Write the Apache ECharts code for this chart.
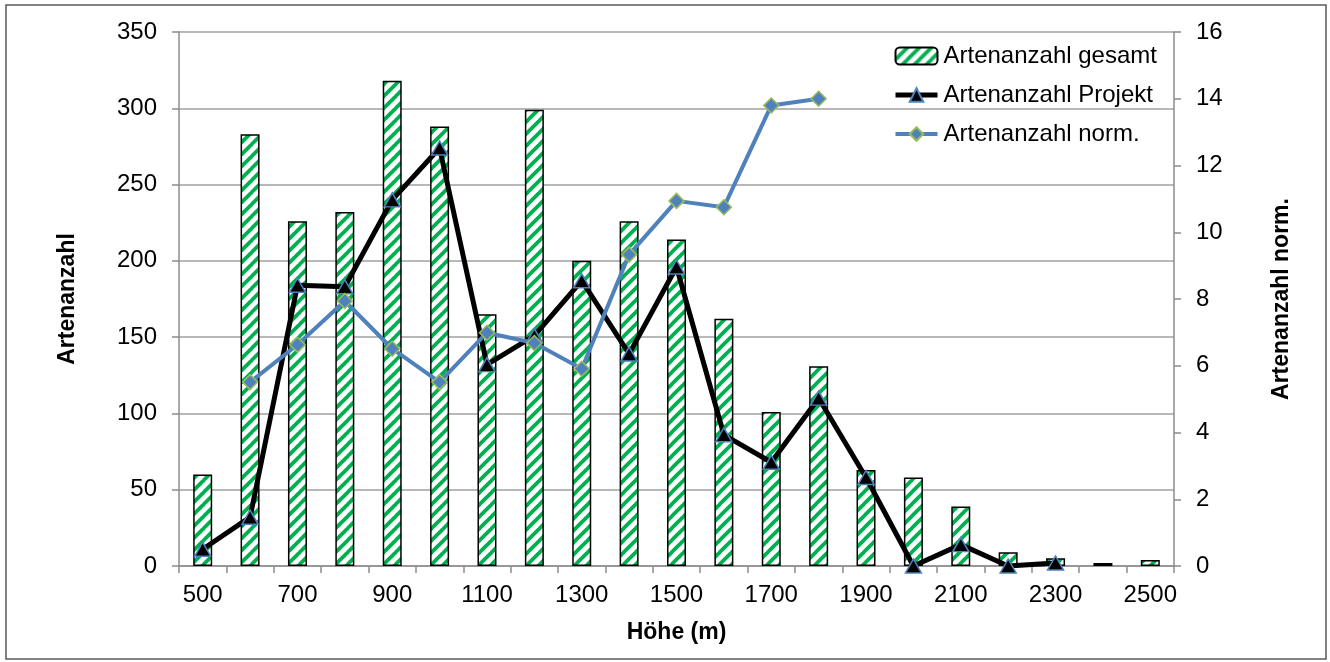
<!DOCTYPE html>
<html>
<head>
<meta charset="utf-8">
<script src="https://cdn.jsdelivr.net/npm/echarts@6/dist/echarts.min.js"></script>
<style>
  html, body { margin: 0; padding: 0; background: #fff; }
  #chart { width: 1330px; height: 662px; }
</style>
</head>
<body>
<div id="chart"></div>
<script>
// Höhenstufen (m)
const hoehe = ['500','600','700','800','900','1000','1100','1200','1300','1400','1500',
               '1600','1700','1800','1900','2000','2100','2200','2300','2400','2500'];
// Artenanzahl gesamt je Höhenstufe
const gesamt = [60, 283, 226, 232, 318, 288, 165, 299, 200, 226, 214,
                162, 101, 131, 63, 58, 39, 9, 5, 2, 4];
// Artenanzahl im Projekt
const projekt = [11, 32, 184, 183, 240, 274, 132, 151, 187, 139, 196,
                 86, 68, 110, 58, 0, 14, 0, 2, null, null];
// normierte Artenanzahl (rechte Achse)
const norm = [null, 5.51, 6.63, 7.94, 6.51, 5.51, 6.99, 6.68, 5.91, 9.33, 10.94,
              10.75, 13.80, 14.0, null, null, null, null, null, null, null];

const FONT = '"Liberation Sans", Arial, sans-serif';
const GREEN = '#00B050';
const AXIS_GRAY = '#8C8C8C';

// diagonal stripe fill (white with green "/" stripes)
function stripePattern() {
  const s = 12;
  const c = document.createElement('canvas');
  c.width = s; c.height = s;
  const g = c.getContext('2d');
  g.fillStyle = '#ffffff';
  g.fillRect(0, 0, s, s);
  g.strokeStyle = GREEN;
  g.lineWidth = 3.8;
  for (const k of [-s, 0, s]) {
    g.beginPath();
    g.moveTo(k - 1, s + 1);
    g.lineTo(k + s + 1, -1);
    g.stroke();
  }
  return c;
}

const chart = echarts.init(document.getElementById('chart'), null, { renderer: 'canvas' });

const tickLabel = { color: '#000', fontFamily: FONT, fontSize: 24 };
const titleStyle = { color: '#000', fontFamily: FONT, fontSize: 23, fontWeight: 'bold' };

chart.setOption({
  animation: false,
  backgroundColor: '#fff',
  graphic: [{
    type: 'rect',
    shape: { x: 6, y: 5, width: 1320, height: 654 },
    style: { fill: 'none', stroke: '#595959', lineWidth: 1.5 },
    silent: true
  }],
  grid: { left: 179, right: 156, top: 32, bottom: 96 },
  legend: {
    orient: 'vertical',
    left: 888,
    top: 39,
    itemWidth: 42,
    itemHeight: 17,
    itemGap: 15,
    textStyle: { color: '#000', fontFamily: FONT, fontSize: 24, padding: [0, 0, 0, 1] },
    data: [
      { name: 'Artenanzahl gesamt' },
      { name: 'Artenanzahl Projekt', lineStyle: { width: 5, color: '#000' } },
      { name: 'Artenanzahl norm.', lineStyle: { width: 4, color: '#4F81BD' } }
    ]
  },
  xAxis: {
    type: 'category',
    data: hoehe,
    name: 'Höhe (m)',
    nameLocation: 'middle',
    nameGap: 55,
    nameTextStyle: titleStyle,
    axisLine: { lineStyle: { color: AXIS_GRAY, width: 1.5 } },
    axisTick: { show: true, interval: 0, length: 7, lineStyle: { color: AXIS_GRAY, width: 1.5 } },
    axisLabel: Object.assign({ interval: 1, margin: 17 }, tickLabel),
    splitLine: { show: false }
  },
  yAxis: [{
    type: 'value',
    min: 0, max: 350, interval: 50,
    name: 'Artenanzahl',
    nameLocation: 'middle',
    nameRotate: 90,
    nameGap: 100,
    nameTextStyle: titleStyle,
    axisLine: { show: true, lineStyle: { color: AXIS_GRAY, width: 1.5 } },
    axisTick: { show: true, length: 7, lineStyle: { color: AXIS_GRAY, width: 1.5 } },
    axisLabel: Object.assign({ margin: 22 }, tickLabel),
    splitLine: { show: true, lineStyle: { color: '#A0A0A0', width: 1.5 } }
  }, {
    type: 'value',
    min: 0, max: 16, interval: 2,
    position: 'right',
    name: 'Artenanzahl norm.',
    nameLocation: 'middle',
    nameRotate: 90,
    nameGap: 96,
    nameTextStyle: titleStyle,
    axisLine: { show: true, lineStyle: { color: AXIS_GRAY, width: 1.5 } },
    axisTick: { show: true, length: 7, lineStyle: { color: AXIS_GRAY, width: 1.5 } },
    axisLabel: Object.assign({ margin: 22 }, tickLabel),
    splitLine: { show: false }
  }],
  series: [{
    name: 'Artenanzahl gesamt',
    type: 'bar',
    yAxisIndex: 0,
    barWidth: 19,
    data: gesamt,
    itemStyle: {
      color: { image: stripePattern(), repeat: 'repeat' },
      borderColor: '#000',
      borderWidth: 1.5
    },
    z: 1
  }, {
    name: 'Artenanzahl Projekt',
    type: 'line',
    yAxisIndex: 0,
    data: projekt,
    symbol: 'triangle',
    symbolSize: [16, 14],
    lineStyle: { color: '#000', width: 5 },
    itemStyle: { color: '#000', borderColor: '#4F81BD', borderWidth: 1.5 },
    connectNulls: false,
    z: 3
  }, {
    name: 'Artenanzahl norm.',
    type: 'line',
    yAxisIndex: 1,
    data: norm,
    symbol: 'diamond',
    symbolSize: [15, 15],
    lineStyle: { color: '#4F81BD', width: 4 },
    itemStyle: { color: '#4F81BD', borderColor: '#9BBB59', borderWidth: 1.5 },
    connectNulls: false,
    z: 4
  }]
});
</script>
</body>
</html>
